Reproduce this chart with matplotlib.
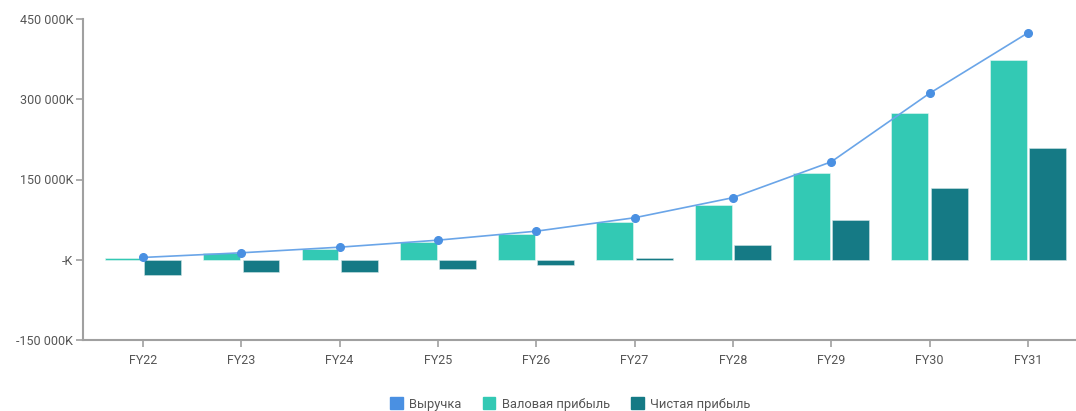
import numpy as np
import matplotlib
matplotlib.use("Agg")
import matplotlib.pyplot as plt
from matplotlib.ticker import FixedLocator, FixedFormatter
from matplotlib.patches import Patch

plt.rcParams['font.family'] = ['Roboto', 'DejaVu Sans']

years = ["FY22", "FY23", "FY24", "FY25", "FY26", "FY27", "FY28", "FY29", "FY30", "FY31"]
revenue = [4300, 13000, 23500, 36600, 53400, 78500, 116000, 183000, 311000, 424000]
gross_profit = [3000, 12300, 21000, 33600, 48600, 70000, 103000, 163000, 274000, 373000]
net_profit = [-28000, -23000, -22000, -18000, -10600, 3000, 27000, 75000, 134000, 208000]

y_ticks = [-150000, 0, 150000, 300000, 450000]
y_labels = ["-150 000K", "-K", "150 000K", "300 000K", "450 000K"]

c_rev = "#4a90e2"
c_gross = "#33c9b4"
c_net = "#157a85"
c_axis = "#a0a0a0"
c_text = "#555555"

fig = plt.figure(figsize=(10.76, 4.11), dpi=100)
ax = fig.add_axes([83 / 1076, 1 - 340 / 411, 1 - 83 / 1076, (340 - 19) / 411])

x = np.arange(len(years))
w = 0.375
ax.bar(x - 0.2, gross_profit, w, color=c_gross, edgecolor="#e8f8f5", linewidth=0.4,
       label="Валовая прибыль", zorder=2)
ax.bar(x + 0.2, net_profit, w, color=c_net, edgecolor="#d0e4e6", linewidth=0.4,
       label="Чистая прибыль", zorder=2)
ax.plot(x, revenue, color="#6aa5e8", linewidth=1.2, zorder=3)
ax.plot(x, revenue, linestyle="none", marker="o", markersize=5.5, color=c_rev, zorder=4)

ax.set_xlim(-0.61, 9.49)
ax.set_ylim(-150000, 450000)
ax.set_xticks(x)
ax.set_xticklabels(years)
ax.yaxis.set_major_locator(FixedLocator(y_ticks))
ax.yaxis.set_major_formatter(FixedFormatter(y_labels))

for s in ["top", "right"]:
    ax.spines[s].set_visible(False)
for s in ["left", "bottom"]:
    ax.spines[s].set_color(c_axis)
    ax.spines[s].set_linewidth(1.5)
ax.tick_params(axis="both", colors=c_axis, length=5, width=1.2, labelcolor=c_text, labelsize=9)
ax.tick_params(axis="x", pad=5)
ax.tick_params(axis="y", pad=2)

# legend
handles = [Patch(color=c_rev, label="Выручка"),
           Patch(color=c_gross, label="Валовая прибыль"),
           Patch(color=c_net, label="Чистая прибыль")]
leg = fig.legend(handles=handles, loc="center", bbox_to_anchor=(0.53, 1 - 404 / 411),
                 ncol=3, frameon=False, fontsize=9.3, handlelength=1.0, handleheight=1.0,
                 handletextpad=0.5, columnspacing=1.6)
for t in leg.get_texts():
    t.set_color(c_text)

fig.savefig("out.png", dpi=100)
